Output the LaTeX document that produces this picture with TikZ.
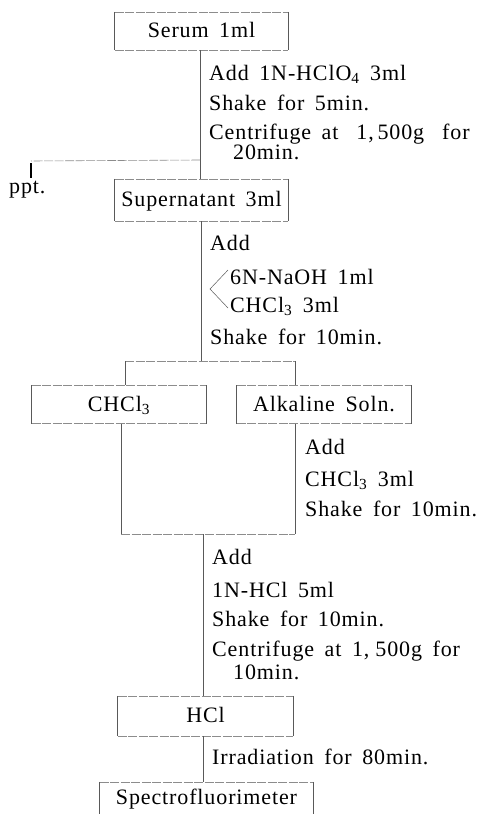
\documentclass[tikz,border=0pt]{standalone}
\usepackage{fontspec}
\setmainfont{Liberation Serif}[LetterSpace=4,WordSpace=1.65]
\begin{document}
\begin{tikzpicture}[x=1pt,y=-1pt,
  every node/.style={font=\fontsize{22}{26}\selectfont},
  txt/.style={anchor=base west, inner sep=0pt},
  box/.style={inner sep=0pt, draw=none, text height=16pt, text depth=3pt},
  boxside/.style={draw=black!65, line width=0.7pt},
  boxedge/.style={draw=black!45, line width=0.6pt, dash pattern=on 9pt off 1.5pt},
  link/.style={draw=black!65, line width=0.7pt},
  hrule/.style={draw=black!45, line width=0.6pt, dash pattern=on 9pt off 1.5pt},
  ppttick/.style={draw=black, line width=1.3pt}]
\useasboundingbox (0,0) rectangle (478,814);

% boxes
\node[box, minimum width=173pt, minimum height=38pt] (serum) at (201.5,31) {Serum 1ml};
\node[box, minimum width=173pt, minimum height=42pt] (super) at (201.5,200) {Supernatant 3ml};
\node[box, minimum width=174pt, minimum height=38pt] (chcl) at (119,404.5) {CHCl\textsubscript{3}};
\node[box, minimum width=174pt, minimum height=38pt] (alk) at (324,404.5) {Alkaline Soln.};
\node[box, minimum width=175pt, minimum height=40pt] (hcl) at (205.5,716) {HCl};
\node[box, minimum width=213pt, minimum height=32pt] (spec) at (206.5,798) {Spectrofluorimeter};

% box frames: darker sides, lighter broken top and bottom
\foreach \b in {serum,super,chcl,alk,hcl} {
  \draw[boxside] (\b.north west) -- (\b.south west) (\b.north east) -- (\b.south east);
  \draw[boxedge] (\b.north west) -- (\b.north east) (\b.south west) -- (\b.south east);
}
\draw[boxside] (spec.north west) -- (spec.south west) (spec.north east) -- (spec.south east);
\draw[boxedge] (spec.north west) -- (spec.north east);

% step 1
\node[txt] (s1a) at (209,80) {Add 1N-HClO\textsubscript{4} 3ml};
\node[txt] (s1b) at (209,110) {Shake for 5min.};
\node[txt, text depth=0pt] (s1c) at (209,139) {Centrifuge at\hspace{18pt}1,\,500g\hspace{18pt}for};
\node[txt] (s1d) at (233,159) {20min.};
\node[txt] (ppt) at (9,193) {ppt.};
\coordinate (br1) at (200,160);
\coordinate (pptCorner) at (31,161);
\coordinate (pptTop) at (31,178);
\draw[link] (serum.south -| br1) -- (super.north -| br1);
\draw[hrule] (br1) -- (pptCorner);
\draw[ppttick] (pptCorner) ++(0,2) -- (pptTop);

% step 2
\node[txt] (s2a) at (210,250) {Add};
\node[txt] (naoh) at (230,284) {6N-NaOH 1ml};
\node[txt] (s2c) at (230,312) {CHCl\textsubscript{3} 3ml};
\node[txt] (s2d) at (210,344) {Shake for 10min.};
\coordinate (brk) at (210,289);
\draw[link, line width=0.5pt] (228,270) -- (brk) -- (228,308);
\coordinate (split) at (201,361);
\coordinate (sL) at (125,361);
\coordinate (sR) at (295,361);
\draw[link] (super.south -| split) -- (split);
\draw[hrule] (sL) -- (sR);
\draw[link] (sL) -- (sL |- chcl.north);
\draw[link] (sR) -- (sR |- alk.north);

% step 3
\node[txt] (s3a) at (305,454) {Add};
\node[txt] (s3b) at (305,486) {CHCl\textsubscript{3} 3ml};
\node[txt] (s3c) at (305,516) {Shake for 10min.};
\coordinate (jL) at (121,534);
\coordinate (jR) at (295,534);
\coordinate (jM) at (203,534);
\draw[link] (jL |- chcl.south) -- (jL);
\draw[link] (jR |- alk.south) -- (jR);
\draw[hrule] (jL) -- (jR);
\draw[link] (jM) -- (jM |- hcl.north);

% step 4
\node[txt] (s4a) at (212,564) {Add};
\node[txt] (s4b) at (212,597) {1N-HCl 5ml};
\node[txt] (s4c) at (212,626) {Shake for 10min.};
\node[txt, text depth=0pt] (s4d) at (212,656) {Centrifuge at 1,\hspace{6pt}500g for};
\node[txt] (s4e) at (233,679) {10min.};

% step 5
\node[txt] (s5) at (212,764) {Irradiation for 80min.};
\draw[link] (jM |- hcl.south) -- (jM |- spec.north);
\end{tikzpicture}
\end{document}
